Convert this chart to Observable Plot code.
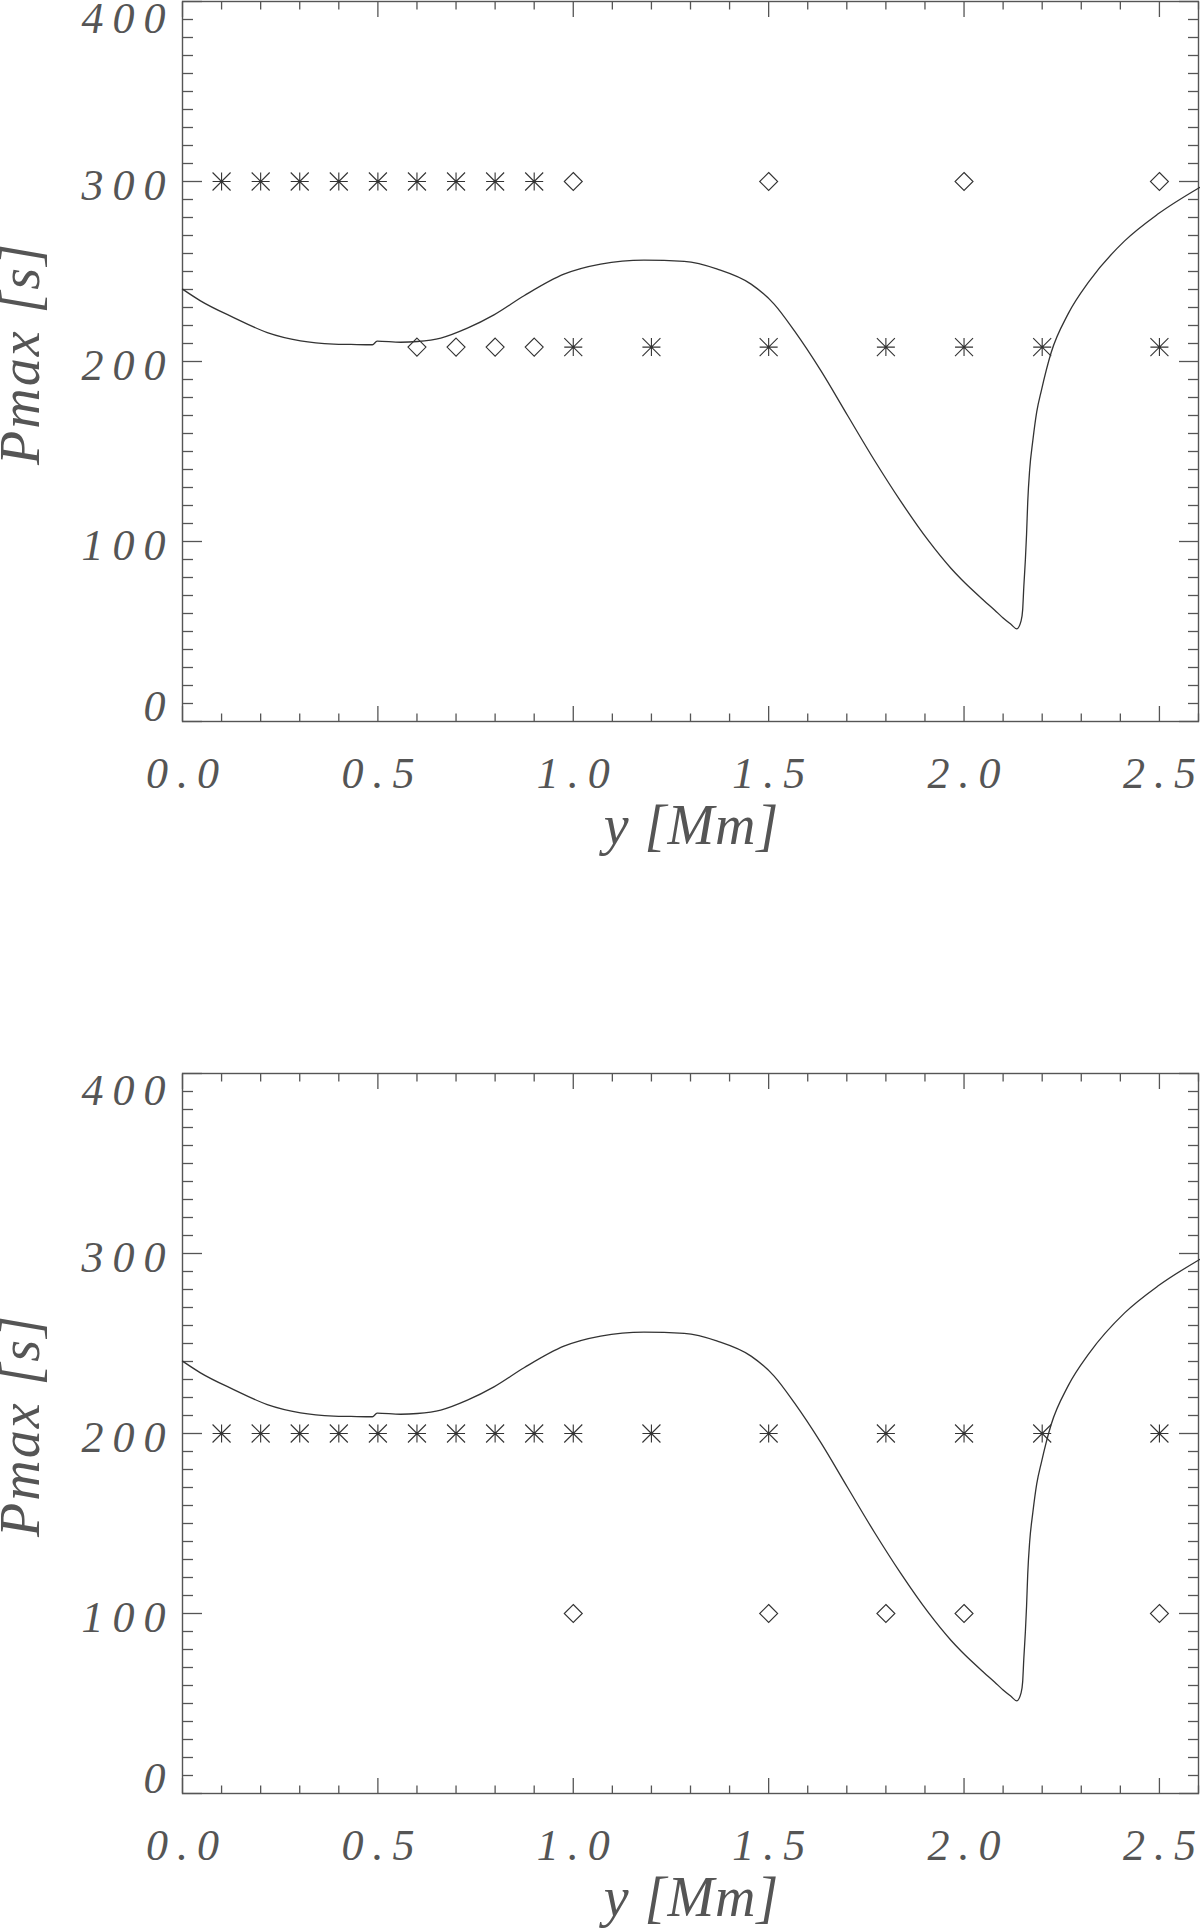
<!DOCTYPE html>
<html><head><meta charset="utf-8">
<script src="https://cdn.jsdelivr.net/npm/d3@7"></script>
<script src="https://cdn.jsdelivr.net/npm/@observablehq/plot@0.6"></script>
<style>
html,body{margin:0;padding:0;background:#fff;}
#chart svg{display:block;overflow:visible;}
#chart .tl text, #chart text.tl{letter-spacing:9px;}
#chart .ytitle text{letter-spacing:2px;}
#chart .xtitle text{letter-spacing:1px;}
</style></head><body><div id="chart"></div>
<script>
// Curve Pmax(y) (same in both panels)
const curveX = [0.000,0.046,0.131,0.217,0.302,0.387,0.431,0.486,0.498,0.558,0.601,0.661,0.729,0.797,0.874,0.976,1.070,1.181,1.284,1.369,1.455,1.514,1.566,1.634,1.702,1.771,1.839,1.907,1.967,1.993,2.052,2.078,2.100,2.120,2.135,2.146,2.150,2.153,2.157,2.160,2.163,2.168,2.176,2.186,2.198,2.223,2.266,2.321,2.411,2.496,2.603];
const curveY = [240.2,233.7,224.4,216.1,211.5,209.7,209.5,209.3,211.3,210.7,211.1,213.0,218.5,225.9,236.5,248.5,254.1,256.3,255.6,251.3,243.0,231.9,217.0,194.8,170.0,145.0,122.0,101.0,85.0,79.0,67.0,62.0,57.5,54.0,51.5,55.9,62.0,75.0,90.0,104.0,122.0,140.0,156.0,172.0,184.0,205.0,226.3,244.8,267.0,281.9,296.7];

// Top panel markers
const topStarX = [0.1,0.2,0.3,0.4,0.5,0.6,0.7,0.8,0.9, 1.0,1.2,1.5,1.8,2.0,2.2,2.5];
const topStarY = [300,300,300,300,300,300,300,300,300, 208,208,208,208,208,208,208];
const topDiamondX = [1.0,1.5,2.0,2.5, 0.6,0.7,0.8,0.9];
const topDiamondY = [300,300,300,300, 208,208,208,208];

// Bottom panel markers
const botStarX = [0.1,0.2,0.3,0.4,0.5,0.6,0.7,0.8,0.9,1.0,1.2,1.5,1.8,2.0,2.2,2.5];
const botStarY = [200,200,200,200,200,200,200,200,200,200,200,200,200,200,200,200];
const botDiamondX = [1.0,1.5,1.8,2.0,2.5];
const botDiamondY = [100,100,100,100,100];

// Axes
const xTicks = [0.0,0.5,1.0,1.5,2.0,2.5];
const xMinor = d3.range(0,27).map(i => +(i/10).toFixed(1));
const yTicks = [0,100,200,300,400];
const yMinor = d3.range(0,41).map(i => i*10);
const xTitle = "y [Mm]";
const yTitle = "Pmax [s]";

const curve = curveX.map((x,i) => ({x, y: curveY[i]}));
const pts = (X,Y) => X.map((x,i) => ({x, y: Y[i]}));

const asterisk = {draw(ctx, size){
  const r = Math.sqrt(size/Math.PI);
  ctx.moveTo(-r,0); ctx.lineTo(r,0);
  ctx.moveTo(0,-r); ctx.lineTo(0,r);
  ctx.moveTo(-r,-r); ctx.lineTo(r,r);
  ctx.moveTo(-r,r); ctx.lineTo(r,-r);
}};
const diamond = {draw(ctx, size){
  const r = Math.sqrt(size/Math.PI);
  ctx.moveTo(0,-r); ctx.lineTo(r,0); ctx.lineTo(0,r); ctx.lineTo(-r,0); ctx.closePath();
}};

const axisCol = "#555";
const textCol = "#555";
const FONT = "'Liberation Serif', serif";

function panel({stars, diamonds, marginTop, marginBottom, height}) {
  const minorX = xMinor.filter(v => !xTicks.some(t => Math.abs(t-v) < 1e-9));
  const minorY = yMinor.filter(v => !yTicks.includes(v));
  return Plot.plot({
    width: 1200, height,
    marginLeft: 182, marginRight: 2, marginTop, marginBottom,
    x: {domain: [0, 2.6]},
    y: {domain: [0, 400]},
    style: {fontFamily: FONT, fontStyle: "italic", color: textCol, background: "#fff", overflow: "visible"},
    marks: [
      Plot.frame({stroke: axisCol, strokeWidth: 1.4}),
      // inward ticks, four sides
      Plot.axisY({anchor: "left", ticks: yTicks, tickSize: -20, fill: "none", stroke: axisCol, strokeWidth: 1.3, label: null}),
      Plot.axisY({anchor: "left", ticks: minorY, tickSize: -11, fill: "none", stroke: axisCol, strokeWidth: 1.3, label: null}),
      Plot.axisY({anchor: "right", ticks: yTicks, tickSize: -20, fill: "none", stroke: axisCol, strokeWidth: 1.3, label: null}),
      Plot.axisY({anchor: "right", ticks: minorY, tickSize: -11, fill: "none", stroke: axisCol, strokeWidth: 1.3, label: null}),
      Plot.axisX({anchor: "bottom", ticks: xTicks, tickSize: -15, fill: "none", stroke: axisCol, strokeWidth: 1.3, label: null}),
      Plot.axisX({anchor: "bottom", ticks: minorX, tickSize: -7.5, fill: "none", stroke: axisCol, strokeWidth: 1.3, label: null}),
      Plot.axisX({anchor: "top", ticks: xTicks, tickSize: -15, fill: "none", stroke: axisCol, strokeWidth: 1.3, label: null}),
      Plot.axisX({anchor: "top", ticks: minorX, tickSize: -7.5, fill: "none", stroke: axisCol, strokeWidth: 1.3, label: null}),
      // tick labels
      Plot.axisY({anchor: "left", ticks: [100,200,300], tickSize: 0, tickPadding: 8, dy: 4, fontSize: 44, className: "tl", label: null}),
      Plot.axisY({anchor: "left", ticks: [400], tickSize: 0, tickPadding: 8, dy: 17, fontSize: 44, className: "tl", label: null}),
      Plot.axisY({anchor: "left", ticks: [0], tickSize: 0, tickPadding: 8, dy: -15, fontSize: 44, className: "tl", label: null}),
      Plot.axisX({anchor: "bottom", ticks: xTicks, tickFormat: d3.format(".1f"), tickSize: 0, tickPadding: 35, dx: 4.5, fontSize: 44, className: "tl", label: null}),
      // titles
      Plot.text([xTitle], {frameAnchor: "bottom", text: d => d, dy: 122, dx: 1, lineAnchor: "bottom", textAnchor: "middle", fontSize: 56, fill: textCol, className: "xtitle"}),
      Plot.text([yTitle], {frameAnchor: "left", text: d => d, rotate: -90, dx: -144, dy: -8, lineAnchor: "bottom", textAnchor: "middle", fontSize: 56, fill: textCol, className: "ytitle"}),
      // data
      Plot.line(curve, {x: "x", y: "y", stroke: "#333", strokeWidth: 1.3, curve: "monotone-x"}),
      Plot.dot(stars, {x: "x", y: "y", symbol: asterisk, r: 9, stroke: "#333", strokeWidth: 1.1, fill: "none"}),
      Plot.dot(diamonds, {x: "x", y: "y", symbol: diamond, r: 9, stroke: "#333", strokeWidth: 1.1, fill: "none"})
    ]
  });
}

const el = document.getElementById("chart");
el.append(panel({stars: pts(topStarX, topStarY), diamonds: pts(topDiamondX, topDiamondY), marginTop: 1, marginBottom: 243, height: 964}));
el.append(panel({stars: pts(botStarX, botStarY), diamonds: pts(botDiamondX, botDiamondY), marginTop: 109, marginBottom: 135, height: 964}));
</script></body></html>
